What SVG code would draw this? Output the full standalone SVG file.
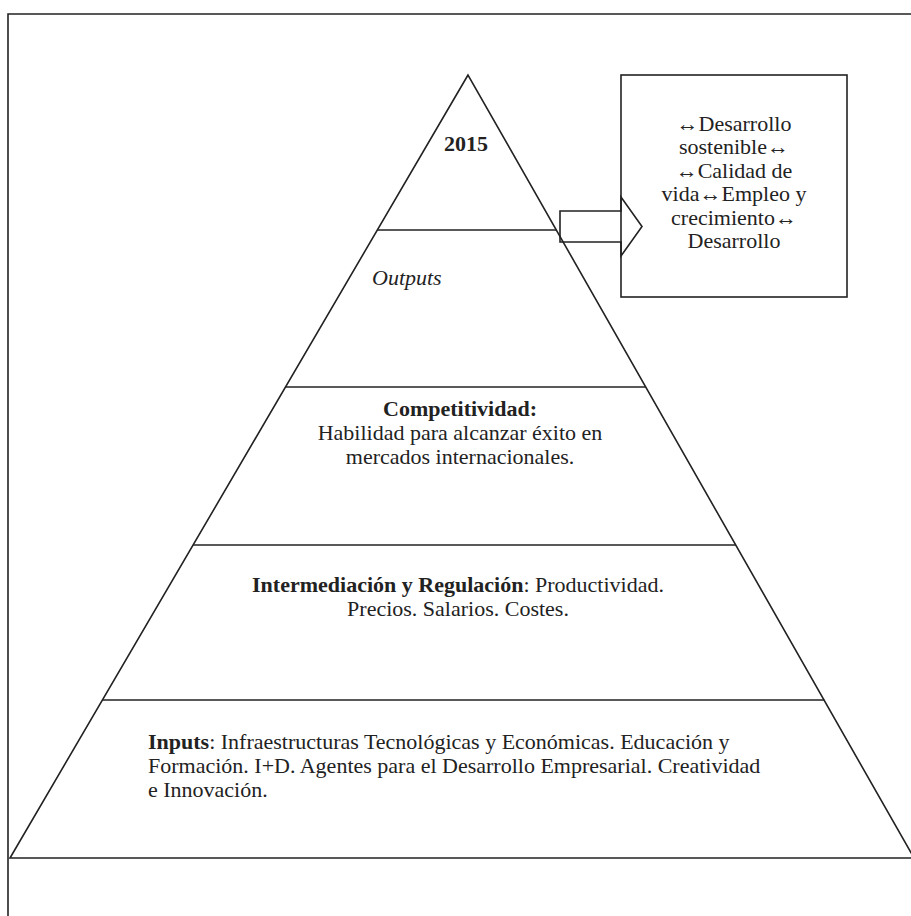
<svg xmlns="http://www.w3.org/2000/svg" width="911" height="916" viewBox="0 0 911 916">
  <style>
    .ln { fill: none; stroke: #222; stroke-width: 1.6; }
    .t { font-family: "Liberation Serif", "Times New Roman", serif; font-size: 22px; fill: #222; }
    .c { text-anchor: middle; }
    .b { font-weight: bold; }
    .i { font-style: italic; }
  </style>
  <rect width="911" height="916" fill="#fff"/>
  <g id="frame">
    <polyline class="ln" points="911,14 8,14 8,916"/>
  </g>
  <g id="pyramid">
    <polygon class="ln" points="468,75 10,858 914,858"/>
  </g>
  <g id="layer-2015">
    <line class="ln" x1="377.3" y1="230" x2="556.4" y2="230"/>
    <text class="t c b" x="466" y="151">2015</text>
  </g>
  <g id="layer-outputs">
    <line class="ln" x1="285.5" y1="387" x2="645.8" y2="387"/>
    <text class="t i" x="372" y="285">Outputs</text>
  </g>
  <g id="layer-competitividad">
    <line class="ln" x1="193.1" y1="545" x2="735.9" y2="545"/>
    <text class="t c" x="460" y="416"><tspan class="b">Competitividad:</tspan></text>
    <text class="t c" x="460" y="440">Habilidad para alcanzar éxito en</text>
    <text class="t c" x="460" y="464">mercados internacionales.</text>
  </g>
  <g id="layer-intermediacion">
    <line class="ln" x1="102.4" y1="700" x2="824.3" y2="700"/>
    <text class="t c" x="458" y="592"><tspan class="b">Intermediación y Regulación</tspan>: Productividad.</text>
    <text class="t c" x="458" y="616">Precios. Salarios. Costes.</text>
  </g>
  <g id="layer-inputs">
    <text class="t" x="148" y="749"><tspan class="b">Inputs</tspan>: Infraestructuras Tecnológicas y Económicas. Educación y</text>
    <text class="t" x="148" y="773">Formación. I+D. Agentes para el Desarrollo Empresarial. Creatividad</text>
    <text class="t" x="148" y="797">e Innovación.</text>
  </g>
  <g id="results-box">
    <rect class="ln" x="621" y="75" width="226" height="222"/>
    <text class="t c" x="734" y="131">↔Desarrollo</text>
    <text class="t c" x="734" y="154.4">sostenible↔</text>
    <text class="t c" x="734" y="177.8">↔Calidad de</text>
    <text class="t c" x="734" y="201.2">vida↔Empleo y</text>
    <text class="t c" x="734" y="224.6">crecimiento↔</text>
    <text class="t c" x="734" y="248">Desarrollo</text>
  </g>
  <g id="connectors">
    <path class="ln" d="M560,211 H621 V197 L642,226.5 L621,256 V242 H560 Z"/>
  </g>
</svg>
